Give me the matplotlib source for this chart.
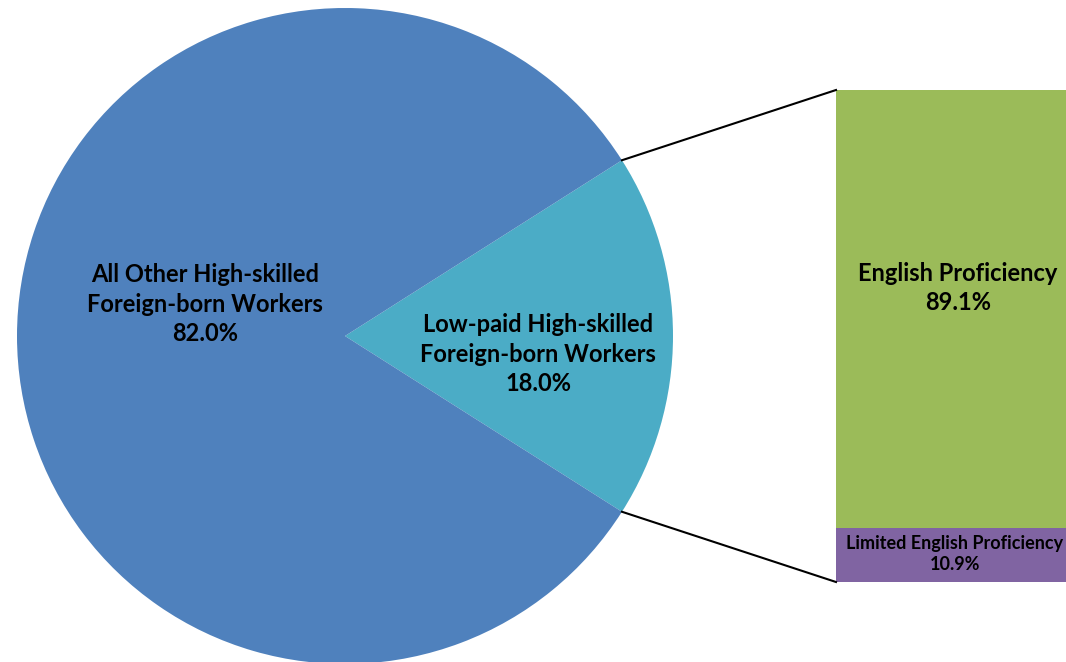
import numpy as np
import matplotlib.pyplot as plt

# pie: share of high-skilled foreign-born workers
pie_labels = ['Low-paid High-skilled\nForeign-born Workers',
              'All Other High-skilled\nForeign-born Workers']
pie_values = [18.0, 82.0]
pie_colors = ['#4BACC6', '#4F81BD']

# bar: English proficiency among the low-paid group
bar_labels = ['Limited English Proficiency', 'English Proficiency']
bar_values = [10.9, 89.1]
bar_colors = ['#8064A2', '#9BBB59']


def main():
    plt.rcParams['font.family'] = ['Lato', 'DejaVu Sans']
    fig = plt.figure(figsize=(10.66, 6.62), dpi=100)
    ax = fig.add_axes([0, 0, 1, 1])
    ax.set_xlim(0, 1066)
    ax.set_ylim(0, 662)
    ax.set_aspect('equal')
    ax.axis('off')

    center = (345, 326)
    radius = 328
    half = pie_values[0] / 100 * 360 / 2
    ax.pie(pie_values, colors=pie_colors, center=center, radius=radius,
           startangle=-half, counterclock=True,
           wedgeprops=dict(linewidth=0))
    ax.set_xlim(0, 1066)
    ax.set_ylim(0, 662)

    # stacked bar
    bar_x = 836
    bar_w = 260
    bar_bottom = 80
    scale = 492 / sum(bar_values)
    bottom = bar_bottom
    for val, col in zip(bar_values, bar_colors):
        ax.bar(bar_x, val * scale, width=bar_w, bottom=bottom, color=col,
               align='edge', linewidth=0)
        bottom += val * scale
    bar_top = bottom

    # connector lines
    a = np.deg2rad(half)
    px = center[0] + radius * np.cos(a)
    py_top = center[1] + radius * np.sin(a)
    py_bot = center[1] - radius * np.sin(a)
    ax.plot([px, bar_x], [py_top, bar_top], color='black', lw=1.5)
    ax.plot([px, bar_x], [py_bot, bar_bottom], color='black', lw=1.5)

    # labels
    big = dict(ha='center', va='center', fontsize=17, fontweight='bold',
               linespacing=1.36)
    ax.text(205, 358, f'{pie_labels[1]}\n{pie_values[1]:.1f}%', **big)
    ax.text(538, 308, f'{pie_labels[0]}\n{pie_values[0]:.1f}%', **big)
    ax.text(958, 374, f'{bar_labels[1]}\n{bar_values[1]:.1f}%', **big)
    ax.text(955, 108, f'{bar_labels[0]}\n{bar_values[0]:.1f}%',
            ha='center', va='center', fontsize=13, fontweight='bold',
            linespacing=1.3)

    fig.savefig('out.png', dpi=100)


if __name__ == '__main__':
    main()
